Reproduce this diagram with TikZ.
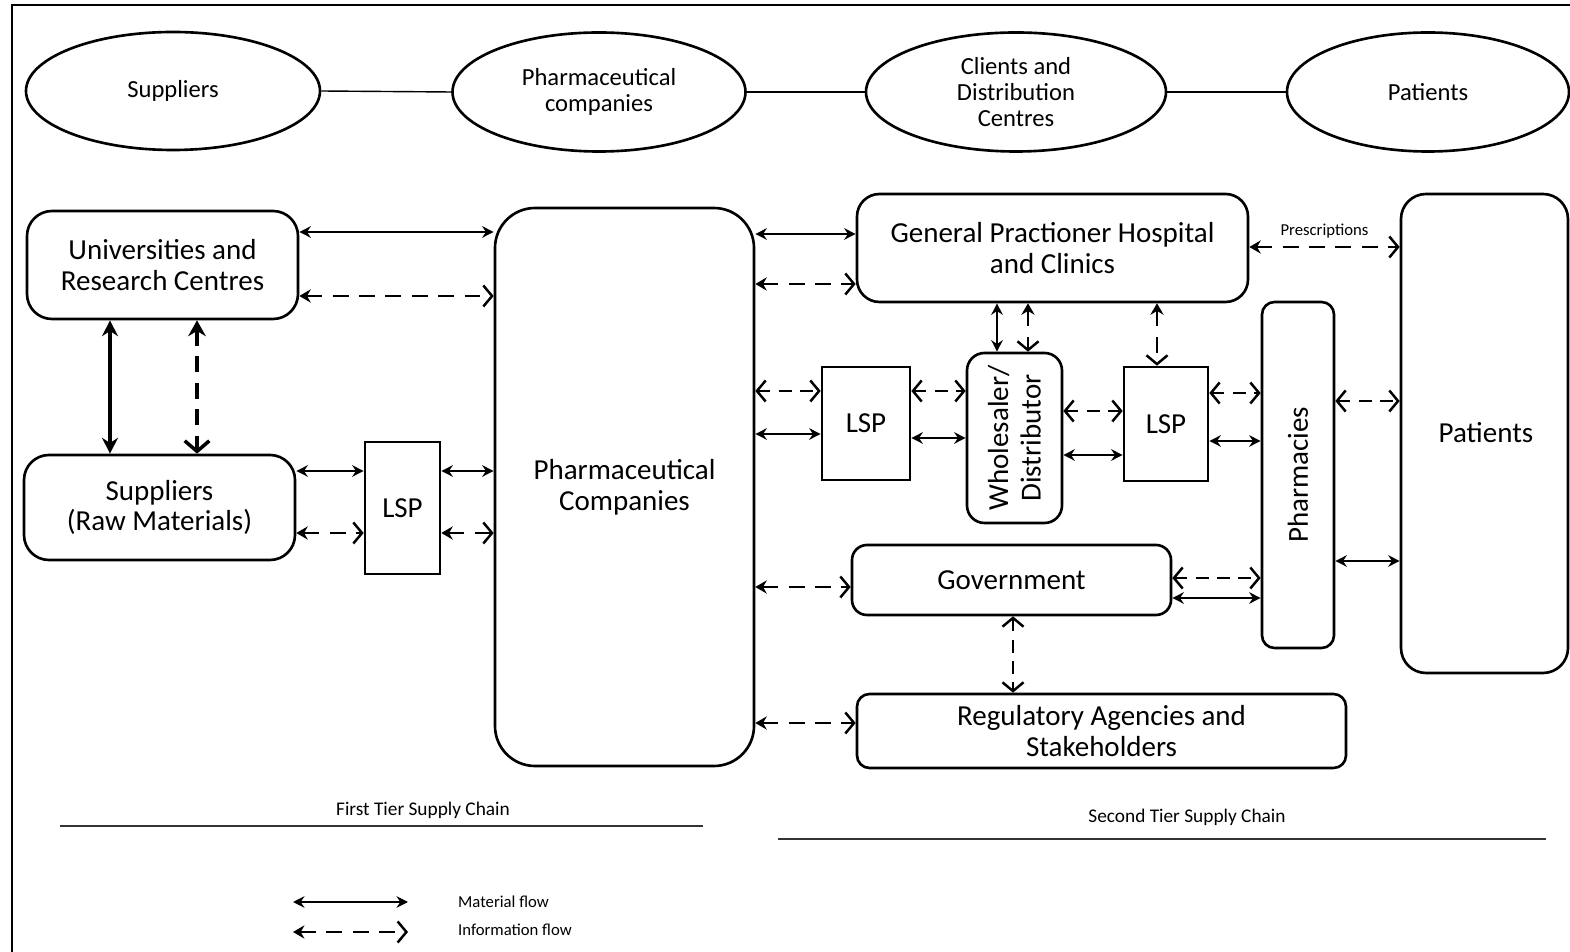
\documentclass[tikz,border=0pt]{standalone}
\usepackage{fontspec}
\setmainfont{Carlito}
\usetikzlibrary{arrows.meta,shapes.geometric}
\begin{document}
\begin{tikzpicture}[x=0.02cm,y=-0.02cm,
 ell/.style={ellipse, draw, line width=1.5pt, inner sep=0pt, align=center, font=\fontsize{14}{14.7}\selectfont},
 box/.style={rectangle, draw, line width=1.5pt, inner sep=0pt, align=center, font=\fontsize{16.5}{17.5}\selectfont},
 sz/.style 2 args={minimum width=#1*0.02cm, minimum height=#2*0.02cm},
 mat/.style={{Stealth[length=6.5pt,width=6.5pt]}-{Stealth[length=6.5pt,width=6.5pt]}, line width=1.25pt},
 matb/.style={{Stealth[length=9pt,width=9pt]}-{Stealth[length=9pt,width=9pt]}, line width=2pt},
 info/.style={{Stealth[length=6.5pt,width=7.5pt]}-{Straight Barb[length=5pt,width=12pt]}, line width=1.4pt, dash pattern=on 9pt off 6pt},
 infoo/.style={{Straight Barb[length=5pt,width=12pt]}-{Straight Barb[length=5pt,width=12pt]}, line width=1.4pt, dash pattern=on 7pt off 5pt},
 infob/.style={{Stealth[length=9pt,width=10pt]}-{Straight Barb[length=6pt,width=14pt]}, line width=2pt, dash pattern=on 9pt off 6pt},
 tier/.style={font=\fontsize{11}{12}\selectfont},
 leg/.style={font=\fontsize{9.5}{11}\selectfont, anchor=west},
 sep/.style={line width=0.9pt, draw=black!80},
]
\useasboundingbox (0,0) rectangle (1570,952);
% frame
\coordinate (fa) at (12,952);
\coordinate (fb) at (12,5);
\coordinate (fc) at (1570,5);
\draw[line width=1.2pt] (fa) -- (fb) -- (fc);

% top ellipses
\node[ell, sz={294}{118}] (esup) at (173,91) {Suppliers};
\node[ell, sz={293}{119}] (epc) at (599,92) {Pharmaceutical\\companies};
\node[ell, sz={300}{119}] (ecdc) at (1016,92) {Clients and\\Distribution\\Centres};
\node[ell, sz={282}{119}] (epat) at (1428,92) {Patients};
\draw[line width=0.8pt] (esup.east) -- (epc.west);
\draw[line width=0.8pt] (epc.east) -- (ecdc.west);
\draw[line width=0.8pt] (ecdc.east) -- (epat.west);

% boxes
\node[box, sz={271}{108}, rounded corners=0.5cm] (univ) at (162.5,265) {Universities and\\Research Centres};
\node[box, sz={271}{105}, rounded corners=0.5cm] (supr) at (159.5,507.5) {Suppliers\\(Raw Materials)};
\node[box, sz={75}{132}] (lsp1) at (402.5,508) {LSP};
\node[box, sz={259}{558}, rounded corners=0.8cm] (pharma) at (624.5,487) {Pharmaceutical\\Companies};
\node[box, sz={391}{108}, rounded corners=0.45cm] (gp) at (1052.5,248) {General Practioner Hospital\\and Clinics};
\node[box, sz={88}{113}] (lsp2) at (866,423.5) {LSP};
\node[box, sz={95}{170}, rounded corners=0.35cm] (whs) at (1014.5,438) {};
\node[rotate=90, align=center, font=\fontsize{16.5}{18.5}\selectfont] (whst) at (whs) {Wholesaler/\\Distributor};
\node[box, sz={84}{114}] (lsp3) at (1166,424) {LSP};
\node[box, sz={72}{346}, rounded corners=0.25cm] (pharm) at (1298,475) {};
\node[rotate=90, font=\fontsize{16.5}{17.5}\selectfont] (pharmt) at (pharm) {Pharmacies};
\node[box, sz={167}{479}, rounded corners=0.5cm] (patb) at (1484.5,433.5) {};
\node[font=\fontsize{16.5}{17.5}\selectfont] (patbt) at (1486,433) {Patients};
\node[box, sz={319}{70}, rounded corners=0.3cm] (gov) at (1011.5,580) {Government};
\node[box, sz={489}{74}, rounded corners=0.25cm] (reg) at (1101.5,731) {Regulatory Agencies and\\Stakeholders};

% left connectors
\draw[mat] (univ.east |- 0,232) -- (pharma.west |- 0,232);
\draw[info] (univ.east |- 0,296) -- (pharma.west |- 0,296);
\draw[matb] (univ.south -| 110,0) -- (supr.north -| 110,0);
\draw[infob] (univ.south -| 197,0) -- (supr.north -| 197,0);
\draw[mat] (supr.east |- 0,471) -- (lsp1.west |- 0,471);
\draw[info] (supr.east |- 0,533) -- (lsp1.west |- 0,533);
\draw[mat] (lsp1.east |- 0,471) -- (pharma.west |- 0,471);
\draw[info] (lsp1.east |- 0,533) -- (pharma.west |- 0,533);

% pharma to the right
\draw[mat] (pharma.east |- 0,234) -- (gp.west |- 0,234);
\draw[info] (pharma.east |- 0,284) -- (gp.west |- 0,284);
\draw[infoo] (pharma.east |- 0,391) -- (lsp2.west |- 0,391);
\draw[mat] (pharma.east |- 0,434) -- (lsp2.west |- 0,434);
\draw[info] (pharma.east |- 0,587) -- (gov.west |- 0,587);
\draw[info] (pharma.east |- 0,723) -- (reg.west |- 0,723);

% middle
\draw[infoo] (lsp2.east |- 0,391) -- (whs.west |- 0,391);
\draw[mat] (lsp2.east |- 0,438) -- (whs.west |- 0,438);
\draw[mat] (gp.south -| 997,0) -- (whs.north -| 997,0);
\draw[info] (gp.south -| 1028,0) -- (whs.north -| 1028,0);
\draw[infoo] (whs.east |- 0,411) -- (lsp3.west |- 0,411);
\draw[mat] (whs.east |- 0,455) -- (lsp3.west |- 0,455);
\draw[info] (gp.south -| 1157,0) -- (lsp3.north -| 1157,0);
\draw[infoo] (lsp3.east |- 0,393) -- (pharm.west |- 0,393);
\draw[mat] (lsp3.east |- 0,441) -- (pharm.west |- 0,441);

% right
\draw[info] (gp.east |- 0,247) -- node[above=1pt, font=\fontsize{9.5}{11}\selectfont] {Prescriptions} (patb.west |- 0,247);
\draw[infoo] (pharm.east |- 0,401) -- (patb.west |- 0,401);
\draw[mat] (pharm.east |- 0,561) -- (patb.west |- 0,561);
\draw[infoo] (gov.east |- 0,578) -- (pharm.west |- 0,578);
\draw[mat] (gov.east |- 0,598) -- (pharm.west |- 0,598);
\draw[infoo] (gov.south -| 1013,0) -- (reg.north -| 1013,0);

% tiers
\node[tier] (t1) at (423,810) {First Tier Supply Chain};
\coordinate (t1a) at (60,826);
\coordinate (t1b) at (703,826);
\draw[sep] (t1a) -- (t1b);
\node[tier] (t2) at (1187,817) {Second Tier Supply Chain};
\coordinate (t2a) at (778,839);
\coordinate (t2b) at (1546,839);
\draw[sep] (t2a) -- (t2b);

% legend
\coordinate (l1a) at (293,902);
\coordinate (l1b) at (408,902);
\coordinate (l2a) at (293,932);
\coordinate (l2b) at (408,932);
\draw[mat] (l1a) -- (l1b);
\draw[info] (l2a) -- (l2b);
\node[leg] (lm) at (452,902) {Material flow};
\node[leg] (li) at (452,930) {Information flow};
\end{tikzpicture}
\end{document}
